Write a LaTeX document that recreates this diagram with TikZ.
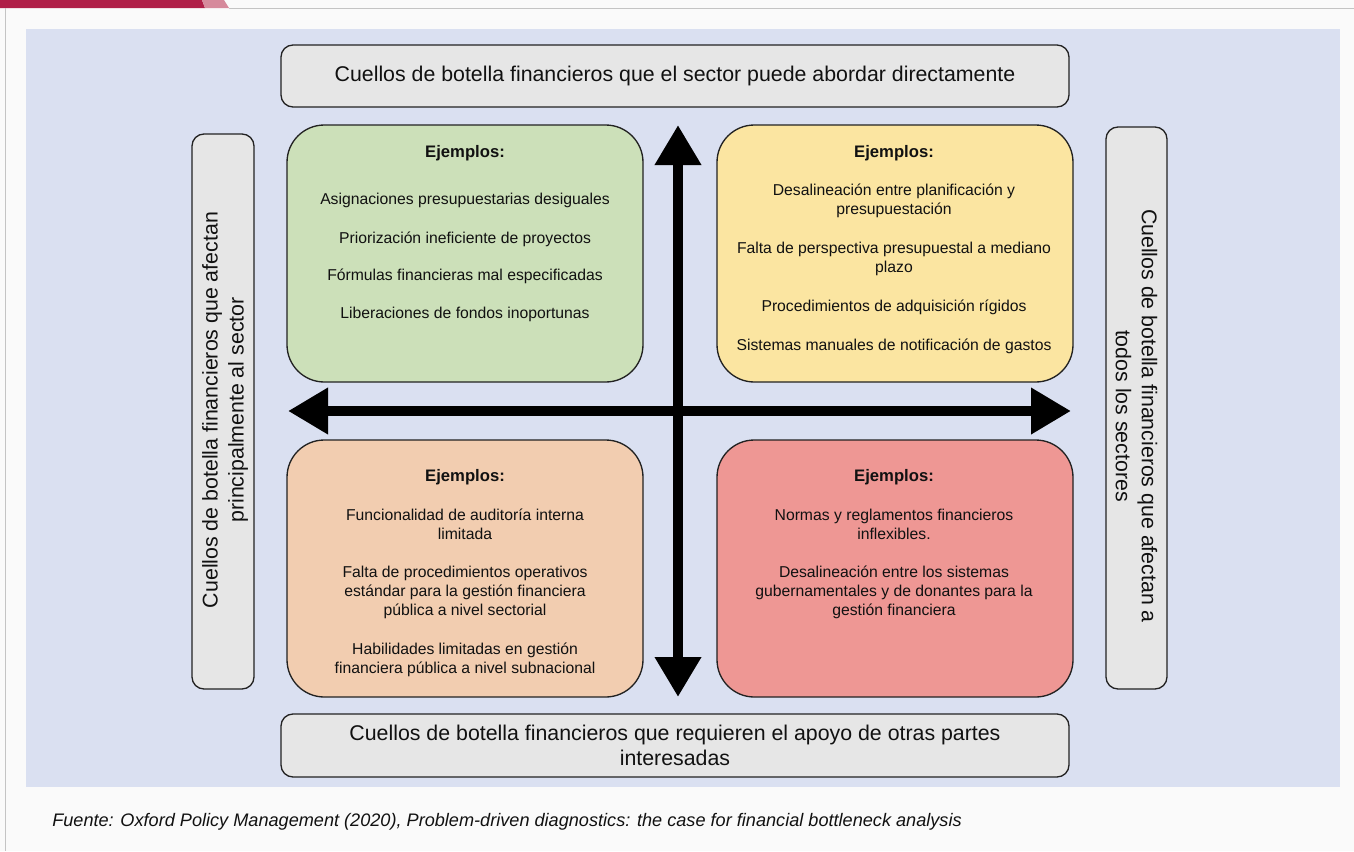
\documentclass[tikz,border=0pt]{standalone}
\usepackage{fontspec}
\setmainfont{Liberation Sans}
\usetikzlibrary{arrows.meta}
\definecolor{pagebg}{HTML}{FAFAFA}
\definecolor{panelbg}{HTML}{DAE0F1}
\definecolor{boxgray}{HTML}{E6E6E6}
\definecolor{qgreen}{HTML}{CCE0B9}
\definecolor{qyellow}{HTML}{FBE5A1}
\definecolor{qorange}{HTML}{F2CDB0}
\definecolor{qred}{HTML}{EE9794}
\definecolor{crimson}{HTML}{B01F48}
\definecolor{crimsonlight}{HTML}{D68A9C}
\definecolor{rulegray}{HTML}{C4C4C4}
\definecolor{edgedark}{HTML}{222222}
\definecolor{textdark}{HTML}{111111}
\tikzset{
  graybox/.style={draw=edgedark, line width=1pt, fill=boxgray, rounded corners=9pt, inner sep=0pt, align=center, text=textdark, font=\fontsize{16pt}{18.5pt}\selectfont},
  sidetxt/.style={inner sep=0pt, align=center, text=textdark, font=\fontsize{16pt}{19.5pt}\selectfont},
  quadbox/.style={draw=edgedark, line width=1pt, rounded corners=28pt, inner sep=0pt, minimum width=267pt, minimum height=192.75pt},
  headtxt/.style={font=\bfseries\fontsize{12.5pt}{15pt}\selectfont, text=textdark, inner sep=0pt},
  itemtxt/.style={font=\fontsize{11.8pt}{14.25pt}\selectfont, text=textdark, align=center, inner sep=0pt},
  bigarrow/.style={line width=7.5pt, {Triangle[length=30pt,width=33pt]}-{Triangle[length=30pt,width=33pt]}}
}
\begin{document}
\begin{tikzpicture}[x=0.75pt,y=-0.75pt]
\useasboundingbox (0,0) rectangle (1354,851);
\fill[pagebg] (0,0) rectangle (1354,851);
% header strip
\fill[crimson] (0,0) -- (202,0) -- (205,8) -- (0,8) -- cycle;
\fill[crimsonlight] (202,0) -- (224,0) -- (229,8) -- (205,8) -- cycle;
\draw[rulegray, line width=1pt] (229,8.5) -- (1354,8.5);
\draw[rulegray, line width=1pt] (5.5,8) -- (5.5,851);
% panel
\fill[panelbg] (26,29) rectangle (1340,787);
% top / bottom boxes
\node[graybox, minimum width=591pt, minimum height=46.5pt] (top) at (675,76)
  {Cuellos de botella financieros que el sector puede abordar directamente};
\node[graybox, minimum width=591pt, minimum height=47.25pt] (bottom) at (675,745.5)
  {Cuellos de botella financieros que requieren el apoyo de otras partes\\interesadas};
% side boxes
\node[graybox, minimum width=46.5pt, minimum height=416.25pt] (left) at (223,411.5) {};
\node[sidetxt, rotate=90] (lefttxt) at (225,410)
  {Cuellos de botella financieros que afectan\\principalmente al sector};
\node[graybox, minimum width=45.75pt, minimum height=421.5pt] (right) at (1136.5,408) {};
\node[sidetxt, rotate=-90] (righttxt) at (1136.5,416)
  {Cuellos de botella financieros que afectan a\\todos los sectores};
% quadrants
\node[quadbox, fill=qgreen] (q1) at (465,253.5) {};
\node[quadbox, fill=qyellow] (q2) at (895,253.5) {};
\node[quadbox, fill=qorange] (q3) at (465,568.5) {};
\node[quadbox, fill=qred] (q4) at (895,568.5) {};
% green texts
\node[headtxt] (h1) at (465,153) {Ejemplos:};
\node[itemtxt] (g1) at (465,200) {Asignaciones presupuestarias desiguales};
\node[itemtxt] (g2) at (465,239) {Priorización ineficiente de proyectos};
\node[itemtxt] (g3) at (465,276) {Fórmulas financieras mal especificadas};
\node[itemtxt] (g4) at (465,314) {Liberaciones de fondos inoportunas};
% yellow texts
\node[headtxt] (h2) at (894,153) {Ejemplos:};
\node[itemtxt] (y1) at (894,201) {Desalineación entre planificación y\\presupuestación};
\node[itemtxt] (y2) at (894,258.5) {Falta de perspectiva presupuestal a mediano\\plazo};
\node[itemtxt] (y3) at (894,307) {Procedimientos de adquisición rígidos};
\node[itemtxt] (y4) at (894,346) {Sistemas manuales de notificación de gastos};
% orange texts
\node[headtxt] (h3) at (465,477) {Ejemplos:};
\node[itemtxt] (o1) at (465,524.5) {Funcionalidad de auditoría interna\\limitada};
\node[itemtxt] (o2) at (465,592.5) {Falta de procedimientos operativos\\estándar para la gestión financiera\\pública a nivel sectorial};
\node[itemtxt] (o3) at (465,659.5) {Habilidades limitadas en gestión\\financiera pública a nivel subnacional};
% red texts
\node[headtxt] (h4) at (894,477) {Ejemplos:};
\node[itemtxt] (r1) at (894,524.5) {Normas y reglamentos financieros\\inflexibles.};
\node[itemtxt] (r2) at (894,592.5) {Desalineación entre los sistemas\\gubernamentales y de donantes para la\\gestión financiera};
% axes
\coordinate (vtop) at (678,125);
\coordinate (vbot) at (678,697);
\coordinate (hleft) at (288,411);
\coordinate (hright) at (1071,411);
\draw[bigarrow] (vbot) -- (vtop);
\draw[bigarrow] (hleft) -- (hright);
% caption
\node[anchor=west, inner sep=0pt, text=textdark, font=\itshape\fontsize{13.6pt}{16pt}\selectfont] (src) at (52,822)
  {Fuente: Oxford Policy Management (2020), Problem-driven diagnostics: the case for financial bottleneck analysis};
\end{tikzpicture}
\end{document}
